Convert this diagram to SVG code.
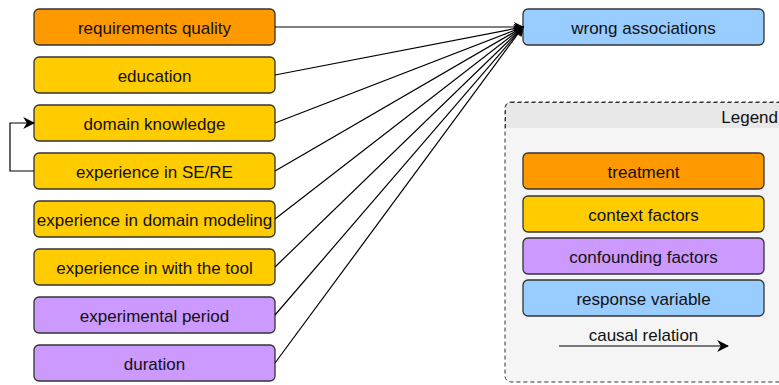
<svg xmlns="http://www.w3.org/2000/svg" width="779" height="385" viewBox="0 0 779 385">
<style>
.n{stroke:#333;stroke-width:1.3}
.t{font-family:"Liberation Sans",Arial,sans-serif;font-size:17px;fill:#111;text-anchor:middle;dominant-baseline:central}
.tr{fill:#FF9900}.cx{fill:#FFCC00}.cf{fill:#CC99FF}.rv{fill:#99CCFF}
.c{stroke:#000;stroke-width:1.2;fill:none}
</style>
<defs>
<marker id="ah" viewBox="0 0 10 10" refX="9" refY="5" markerWidth="10" markerHeight="10" markerUnits="userSpaceOnUse" orient="auto">
<path d="M0,0 L10,5 L0,10 L3,5 Z" fill="#000"/>
</marker>
<marker id="ah2" viewBox="0 0 10 10" refX="9" refY="5" markerWidth="12" markerHeight="12" markerUnits="userSpaceOnUse" orient="auto">
<path d="M0,0 L10,5 L0,10 L3,5 Z" fill="#000"/>
</marker>
</defs>
<g id="legend">
<rect x="505" y="102" width="290" height="280" rx="6" fill="#f5f5f5" stroke="#333" stroke-width="1" stroke-dasharray="4 3"/>
<path d="M505.5,128 L505.5,108 Q505.5,102.5 511,102.5 L779,102.5 L779,128 Z" fill="#e8e8e8"/>
<path d="M505.5,128 L505.5,108 Q505.5,102.5 511,102.5 L779,102.5" fill="none" stroke="#333" stroke-width="1" stroke-dasharray="4 3"/>
<text class="t" x="778" y="117" style="text-anchor:end">Legend</text>
<rect class="n tr" x="523" y="153" width="241" height="36" rx="5"/>
<text class="t" x="643.5" y="172">treatment</text>
<rect class="n cx" x="523" y="196" width="241" height="36" rx="5"/>
<text class="t" x="643.5" y="215">context factors</text>
<rect class="n cf" x="523" y="238" width="241" height="36" rx="5"/>
<text class="t" x="643.5" y="257">confounding factors</text>
<rect class="n rv" x="523" y="280" width="241" height="36" rx="5"/>
<text class="t" x="643.5" y="299">response variable</text>
<text class="t" x="643.5" y="335">causal relation</text>
<line class="c" x1="559" y1="346" x2="728" y2="346" marker-end="url(#ah2)"/>
</g>
<g id="n1"><rect class="n tr" x="34" y="9" width="241" height="36" rx="5"/><text class="t" x="154.5" y="28">requirements quality</text></g>
<g id="n2"><rect class="n cx" x="34" y="57" width="241" height="36" rx="5"/><text class="t" x="154.5" y="76">education</text></g>
<g id="n3"><rect class="n cx" x="34" y="105" width="241" height="36" rx="5"/><text class="t" x="154.5" y="124">domain knowledge</text></g>
<g id="n4"><rect class="n cx" x="34" y="153" width="241" height="36" rx="5"/><text class="t" x="154.5" y="172">experience in SE/RE</text></g>
<g id="n5"><rect class="n cx" x="34" y="201" width="241" height="36" rx="5"/><text class="t" x="154.5" y="220">experience in domain modeling</text></g>
<g id="n6"><rect class="n cx" x="34" y="249" width="241" height="36" rx="5"/><text class="t" x="154.5" y="268">experience in with the tool</text></g>
<g id="n7"><rect class="n cf" x="34" y="297" width="241" height="36" rx="5"/><text class="t" x="154.5" y="316">experimental period</text></g>
<g id="n8"><rect class="n cf" x="34" y="345" width="241" height="36" rx="5"/><text class="t" x="154.5" y="364">duration</text></g>
<g id="target"><rect class="n rv" x="523" y="9" width="241" height="36" rx="5"/><text class="t" x="643.5" y="28">wrong associations</text></g>
<g id="connectors">
<line class="c" x1="275" y1="27" x2="523" y2="27" marker-end="url(#ah)"/>
<line class="c" x1="275" y1="75" x2="523" y2="27" marker-end="url(#ah)"/>
<line class="c" x1="275" y1="123" x2="523" y2="27" marker-end="url(#ah)"/>
<line class="c" x1="275" y1="171" x2="523" y2="27" marker-end="url(#ah)"/>
<line class="c" x1="275" y1="219" x2="523" y2="27" marker-end="url(#ah)"/>
<line class="c" x1="275" y1="267" x2="523" y2="27" marker-end="url(#ah)"/>
<line class="c" x1="275" y1="315" x2="523" y2="27" marker-end="url(#ah)"/>
<line class="c" x1="275" y1="363" x2="523" y2="27" marker-end="url(#ah)"/>
<path class="c" d="M34,171 L10,171 L10,123 L34,123" marker-end="url(#ah2)"/>
</g>
</svg>
